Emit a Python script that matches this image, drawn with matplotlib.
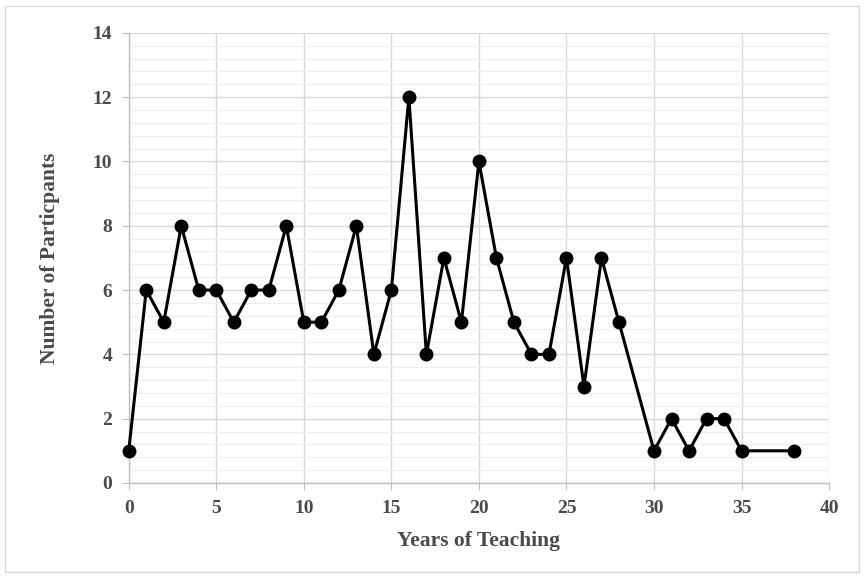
import matplotlib
matplotlib.use("Agg")
import matplotlib.pyplot as plt
from matplotlib.patches import Rectangle
from matplotlib.ticker import MultipleLocator

# years of teaching vs. number of participants
years = [0, 1, 2, 3, 4, 5, 6, 7, 8, 9, 10, 11, 12, 13, 14, 15, 16, 17, 18, 19,
         20, 21, 22, 23, 24, 25, 26, 27, 28, 30, 31, 32, 33, 34, 35, 38]
participants = [1, 6, 5, 8, 6, 6, 5, 6, 6, 8, 5, 5, 6, 8, 4, 6, 12, 4, 7, 5,
                10, 7, 5, 4, 4, 7, 3, 7, 5, 1, 2, 1, 2, 2, 1, 1]

txt = '#4a4a4a'
plt.rcParams['font.family'] = ['Liberation Serif', 'DejaVu Serif']
plt.rcParams['font.weight'] = 'bold'

fig = plt.figure(figsize=(8.64, 5.77), dpi=100)
ax = fig.add_axes([0.149, 0.163, 0.8106, 0.78])

# outer frame
fig.patches.append(Rectangle((0.006, 0.008), 0.988, 0.982, transform=fig.transFigure,
                             fill=False, edgecolor='#d9d9d9', lw=1.0))

ax.plot(years, participants, color='black', lw=2.2, marker='o', ms=9,
        zorder=3, clip_on=False)

ax.set_xlim(0, 40)
ax.set_ylim(0, 14)
ax.xaxis.set_major_locator(MultipleLocator(5))
ax.yaxis.set_major_locator(MultipleLocator(2))
ax.yaxis.set_minor_locator(MultipleLocator(0.4))
ax.grid(which='major', color='#d9d9d9', lw=1.0)
ax.grid(which='minor', axis='y', color='#efefef', lw=1.0)
ax.set_axisbelow(True)

for s in ['top', 'right']:
    ax.spines[s].set_visible(False)
for s in ['left', 'bottom']:
    ax.spines[s].set_color('#bfbfbf')
    ax.spines[s].set_linewidth(1.0)

ax.tick_params(which='major', length=5, color='#bfbfbf', labelcolor=txt,
               labelsize=14, pad=7)
ax.tick_params(which='minor', length=0)
for lbl in ax.get_xticklabels() + ax.get_yticklabels():
    lbl.set_fontweight('bold')

ax.set_xlabel('Years of Teaching', fontsize=15.5, fontweight='bold', color=txt, labelpad=10)
ax.set_ylabel('Number of Particpants', fontsize=15.5, fontweight='bold', color=txt, labelpad=23)

fig.savefig('out.png', dpi=100)
